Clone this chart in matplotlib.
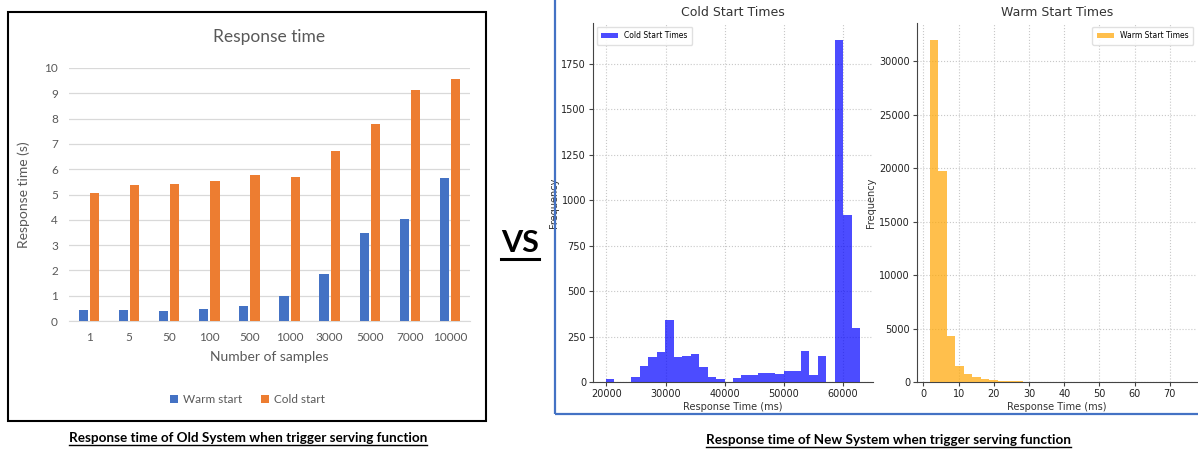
import numpy as np
import matplotlib
matplotlib.use("Agg")
import matplotlib.pyplot as plt
from matplotlib.patches import Rectangle
from matplotlib.lines import Line2D

# old system (Excel chart)
samples = ['1', '5', '50', '100', '500', '1000', '3000', '5000', '7000', '10000']
warm_old = [0.45, 0.42, 0.41, 0.47, 0.60, 0.99, 1.87, 3.47, 4.03, 5.67]
cold_old = [5.07, 5.39, 5.42, 5.53, 5.76, 5.68, 6.71, 7.78, 9.12, 9.55]

# new system histograms (30 bins each)
cold_range = (19890, 62940)
cold_counts = [15, 0, 0, 30, 90, 140, 165, 340, 140, 145,
               155, 85, 30, 15, 0, 20, 40, 40, 48, 52,
               45, 62, 58, 170, 38, 142, 0, 1880, 920, 295]
warm_range = (1.8, 74.1)
warm_counts = [32000, 19750, 4290, 1490, 780, 435, 250, 180, 120, 80,
               60, 40, 25, 15, 10, 8, 5, 4, 3, 2,
               2, 1, 1, 1, 0, 0, 1, 0, 0, 1]

W, H = 1198, 453
fig = plt.figure(figsize=(W / 100, H / 100), dpi=100)


def box(x0, y0, x1, y1):
    # pixel box (top-left origin) -> figure fraction rect
    return [x0 / W, 1 - y1 / H, (x1 - x0) / W, (y1 - y0) / H]


xl = 'Lato'
dj = 'DejaVu Sans'
grey = '#595959'

# ---------------- left: old system ----------------
ax = fig.add_axes(box(69, 68, 470, 321))
x = np.arange(len(samples))
bw = 0.23
ax.bar(x - 0.14, warm_old, bw, color='#4472C4', label='Warm start', zorder=3)
ax.bar(x + 0.14, cold_old, bw, color='#ED7D31', label='Cold start', zorder=3)
ax.set_xlim(-0.5, len(samples) - 0.5)
ax.set_ylim(0, 10)
ax.set_yticks(range(0, 11))
ax.set_xticks(x)
ax.set_xticklabels(samples)
ax.grid(axis='y', color='#d9d9d9', lw=0.9, zorder=0)
for s in ['top', 'right', 'left']:
    ax.spines[s].set_visible(False)
ax.spines['bottom'].set_color('#d9d9d9')
ax.tick_params(length=0, labelsize=8.5, labelcolor=grey, pad=8)
for t in ax.get_xticklabels() + ax.get_yticklabels():
    t.set_fontfamily(xl)
ax.set_title('Response time', fontsize=12.5, color=grey, family=xl, pad=19)
ax.set_xlabel('Number of samples', fontsize=10, color=grey, family=xl, labelpad=6)
ax.set_ylabel('Response time (s)', fontsize=10, color=grey, family=xl, labelpad=10)
ax.legend(loc='center', bbox_to_anchor=(0.445, -0.31), ncol=2, frameon=False,
          prop={'family': xl, 'size': 8.5}, labelcolor=grey,
          handlelength=0.7, handleheight=0.7, columnspacing=1.6, handletextpad=0.4)

fig.patches.append(Rectangle((8 / W, 1 - 421 / H), 478 / W, 409 / H,
                             transform=fig.transFigure, fill=False,
                             edgecolor='black', lw=1.5))

# ---------------- right: new system ----------------
fig.patches.append(Rectangle((555 / W, 1 - 414 / H), 650 / W, 420 / H,
                             transform=fig.transFigure, fill=False,
                             edgecolor='#4472C4', lw=1.6))


def hist_panel(rect, counts, rng, color, title, legloc):
    a = fig.add_axes(rect)
    edges = np.linspace(rng[0], rng[1], len(counts) + 1)
    a.hist(edges[:-1], bins=edges, weights=counts, color=color, alpha=0.7,
           label=title, zorder=3)
    a.set_axisbelow(True)
    a.grid(True, ls=':', color='#c8c8c8', lw=0.8)
    for s in ['top', 'right']:
        a.spines[s].set_visible(False)
    for s in ['left', 'bottom']:
        a.spines[s].set_color('#444444')
    a.tick_params(labelsize=7, length=3, color='#444444', pad=2, labelcolor='#222222')
    a.set_title(title, fontsize=9, family=dj, color='#333333', pad=5)
    a.set_xlabel('Response Time (ms)', fontsize=7, family=dj, color='#333333', labelpad=2)
    a.set_ylabel('Frequency', fontsize=7, family=dj, color='#333333', labelpad=2)
    a.legend(loc=legloc, prop={'family': dj, 'size': 5.5}, handlelength=2.2,
             borderpad=0.6, framealpha=0.9, edgecolor='#dddddd')
    return a


ac = hist_panel(box(593, 23, 873, 382), cold_counts, cold_range, 'blue',
                'Cold Start Times', 'upper left')
ac.set_yticks(range(0, 2000, 250))
ac.set_xticks(range(20000, 60001, 10000))

aw = hist_panel(box(917, 23, 1197, 382), warm_counts, warm_range, 'orange',
                'Warm Start Times', 'upper right')
aw.set_yticks(range(0, 30001, 5000))
aw.set_xticks(range(0, 71, 10))

# ---------------- captions ----------------
caps = [
    (248, 438, 'Response time of Old System when trigger serving function', 9.7),
    (888, 440, 'Response time of New System when trigger serving function', 9.7),
    (520, 243, 'VS', 22),
]
fig.canvas.draw()
r = fig.canvas.get_renderer()
for cx, cy, txt, fs in caps:
    t = fig.text(cx / W, 1 - cy / H, txt, ha='center', va='center',
                 fontsize=fs, fontweight='bold', family=xl)
    bb = t.get_window_extent(renderer=r).transformed(fig.transFigure.inverted())
    uy = bb.y0 - (1.0 if fs < 15 else 2) / H
    fig.lines.append(Line2D([bb.x0, bb.x1], [uy, uy], transform=fig.transFigure,
                            color='black', lw=1 if fs < 15 else 2.2))

fig.savefig('out.png', dpi=100, facecolor='white')
